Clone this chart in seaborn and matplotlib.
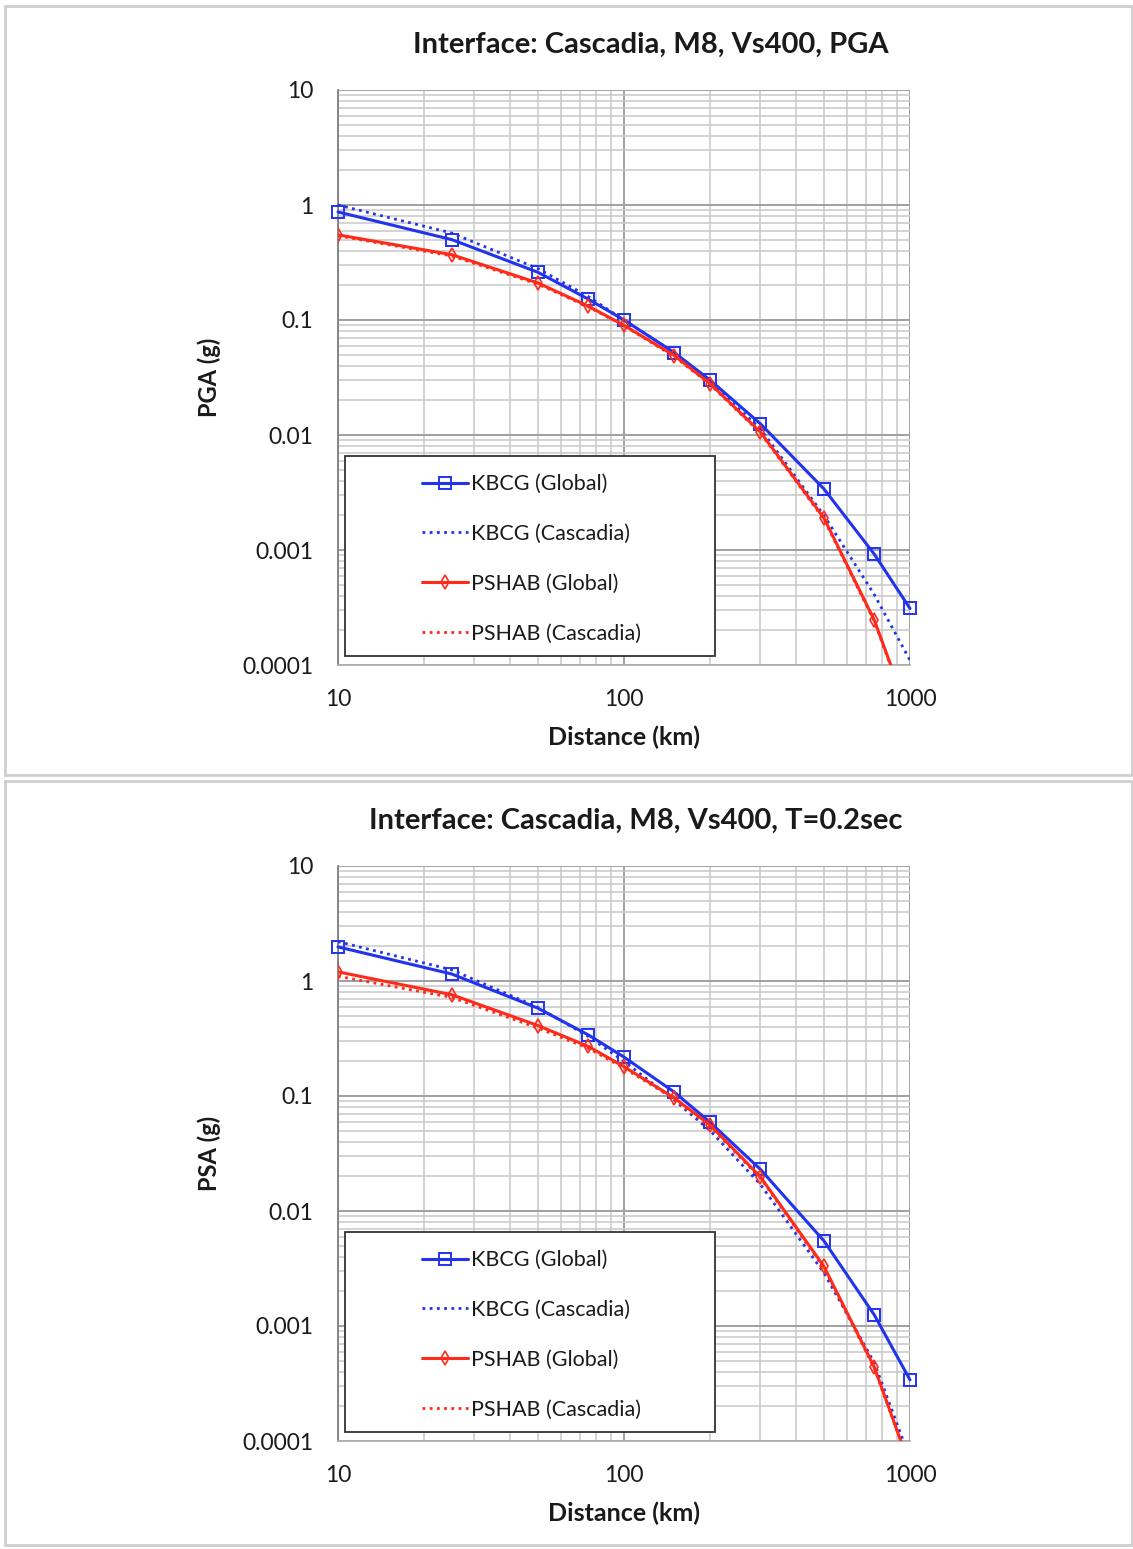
import numpy as np
import pandas as pd
import matplotlib
matplotlib.use('Agg')
import matplotlib.pyplot as plt
import seaborn as sns
from matplotlib.patches import Rectangle
from matplotlib.ticker import FixedLocator, NullFormatter

# ---------------- data ----------------
distance_km = [10, 25, 50, 75, 100, 150, 200, 300, 500, 750, 1000]

pga_kbcg_global = [0.87, 0.50, 0.26, 0.152, 0.100, 0.052, 0.030, 0.0125, 0.0034, 0.00092, 0.00031]
pga_kbcg_cascadia = [1.00, 0.57, 0.28, 0.160, 0.100, 0.052, 0.029, 0.0113, 0.0020, 0.00041, 0.00011]
pga_pshab_global = [0.55, 0.37, 0.21, 0.132, 0.090, 0.049, 0.028, 0.0106, 0.0019, 0.000246, 0.000035]
pga_pshab_cascadia = [0.54, 0.36, 0.205, 0.130, 0.089, 0.048, 0.0275, 0.0104, 0.00185, 0.00024, 0.000034]

psa_kbcg_global = [1.98, 1.15, 0.58, 0.34, 0.218, 0.108, 0.059, 0.023, 0.0055, 0.00125, 0.00034]
psa_kbcg_cascadia = [2.20, 1.25, 0.59, 0.33, 0.200, 0.092, 0.050, 0.017, 0.0029, 0.00048, 0.00007]
psa_pshab_global = [1.20, 0.76, 0.41, 0.27, 0.180, 0.096, 0.056, 0.0198, 0.0033, 0.00044, 0.00006]
psa_pshab_cascadia = [1.10, 0.72, 0.39, 0.26, 0.175, 0.094, 0.054, 0.0193, 0.0032, 0.00043, 0.00006]

series_labels = ["KBCG (Global)", "KBCG (Cascadia)", "PSHAB (Global)", "PSHAB (Cascadia)"]
titles = ["Interface: Cascadia, M8, Vs400, PGA", "Interface: Cascadia, M8, Vs400, T=0.2sec"]
y_labels = ["PGA (g)", "PSA (g)"]
x_label = "Distance (km)"
x_ticks = [10, 100, 1000]
x_tick_labels = ["10", "100", "1000"]
y_ticks = [0.0001, 0.001, 0.01, 0.1, 1, 10]
y_tick_labels = ["0.0001", "0.001", "0.01", "0.1", "1", "10"]

# ---------------- style ----------------
sns.set_theme(style='white')
plt.rcParams['font.family'] = ['Lato', 'DejaVu Sans']

BLUE = '#2233ee'
RED = '#ff2a1a'
TXT = '#1a1a1a'

W, H = 1133, 1549
fig = plt.figure(figsize=(W / 100, H / 100), dpi=100)
fig.patch.set_facecolor('white')

def px_rect(x0, y0, x1, y1):
    return [x0 / W, 1 - y1 / H, (x1 - x0) / W, (y1 - y0) / H]

# panel frames
for (y0, y1) in [(6, 775), (781, 1545)]:
    fig.patches.append(Rectangle((5 / W, 1 - y1 / H), (1127) / W, (y1 - y0) / H,
                                 transform=fig.transFigure, fill=False,
                                 edgecolor='#cfcfcf', linewidth=2.0))

panels = [
    dict(rect=px_rect(338, 90, 910, 665), data=[pga_kbcg_global, pga_kbcg_cascadia, pga_pshab_global, pga_pshab_cascadia],
         title=titles[0], title_xy=(651, 44), ylabel=y_labels[0], xlabel_y=737),
    dict(rect=px_rect(338, 866, 910, 1441), data=[psa_kbcg_global, psa_kbcg_cascadia, psa_pshab_global, psa_pshab_cascadia],
         title=titles[1], title_xy=(636, 820), ylabel=y_labels[1], xlabel_y=1513),
]

styles = [
    dict(color=BLUE, linestyle='-', linewidth=2.2, marker='s', markersize=9, markerfacecolor='none',
         markeredgecolor=BLUE, markeredgewidth=1.4, clip_on=False),
    dict(color=BLUE, linestyle=(0, (1, 1.6)), linewidth=2.0, marker=None),
    dict(color=RED, linestyle='-', linewidth=2.2, marker='d', markersize=7.5, markerfacecolor='none',
         markeredgecolor=RED, markeredgewidth=1.2),
    dict(color=RED, linestyle=(0, (1, 1.6)), linewidth=2.0, marker=None),
]

for p in panels:
    ax = fig.add_axes(p['rect'])
    ax.set_xscale('log')
    ax.set_yscale('log')
    ax.set_xlim(10, 1000)
    ax.set_ylim(1e-4, 10)
    ax.set_facecolor('white')

    for vals, lab, st in zip(p['data'], series_labels, styles):
        df = pd.DataFrame({'distance': distance_km, 'value': vals})
        sns.lineplot(data=df, x='distance', y='value', ax=ax, label=lab, legend=False,
                     zorder=3, sort=True, **st)
    handles = ax.get_lines()[-4:]

    # grid
    ax.xaxis.set_major_locator(FixedLocator(x_ticks))
    ax.xaxis.set_minor_locator(FixedLocator([m * d for d in [10, 100] for m in range(2, 10)]))
    ax.yaxis.set_major_locator(FixedLocator(y_ticks))
    ax.yaxis.set_minor_locator(FixedLocator([m * d for d in [1e-4, 1e-3, 1e-2, 1e-1, 1] for m in range(2, 10)]))
    ax.xaxis.set_minor_formatter(NullFormatter())
    ax.yaxis.set_minor_formatter(NullFormatter())
    ax.set_xticklabels(x_tick_labels)
    ax.set_yticklabels(y_tick_labels)
    ax.set_axisbelow(True)
    ax.grid(which='major', color='#a0a0a0', linewidth=1.4)
    ax.grid(which='minor', color='#c8c8c8', linewidth=1.1)
    ax.tick_params(which='minor', length=0)
    ax.tick_params(which='major', length=3.6, width=1.2, color='#808080', direction='out')
    ax.tick_params(axis='x', pad=14, labelsize=16.5, labelcolor=TXT)
    ax.tick_params(axis='y', pad=14, labelsize=16.5, labelcolor=TXT)

    for side in ['top', 'right']:
        ax.spines[side].set_visible(False)
    ax.spines['left'].set_color('#808080')
    ax.spines['bottom'].set_color('#b0b0b0')
    ax.spines['left'].set_linewidth(1.3)
    ax.spines['bottom'].set_linewidth(1.3)

    ax.set_xlabel('')
    ax.set_ylabel('')

    # legend box
    ax.add_patch(Rectangle((0.012, 0.016), 0.647, 0.347, transform=ax.transAxes,
                           facecolor='white', edgecolor='#333333', linewidth=1.3, zorder=2.5))
    leg = ax.legend(handles, series_labels, loc='upper left', bbox_to_anchor=(0.147, 0.332),
                    frameon=False, fontsize=15.5, handlelength=2.14, handletextpad=0.14,
                    labelspacing=1.39, borderpad=0, borderaxespad=0)
    leg.set_zorder(6)
    for t in leg.get_texts():
        t.set_color(TXT)

    # texts
    tx, ty = p['title_xy']
    fig.text(tx / W, 1 - (ty + 1) / H, p['title'], ha='center', va='center', fontsize=21,
             fontweight='bold', color=TXT)
    yc = (p['rect'][1] + p['rect'][3] / 2)
    fig.text(209 / W, yc, p['ylabel'], rotation=90, ha='center', va='center', fontsize=17,
             fontweight='bold', color=TXT)
    fig.text(624 / W, 1 - p['xlabel_y'] / H, x_label, ha='center', va='center', fontsize=18,
             fontweight='bold', color=TXT)

fig.savefig('out.png', dpi=100, facecolor='white')
